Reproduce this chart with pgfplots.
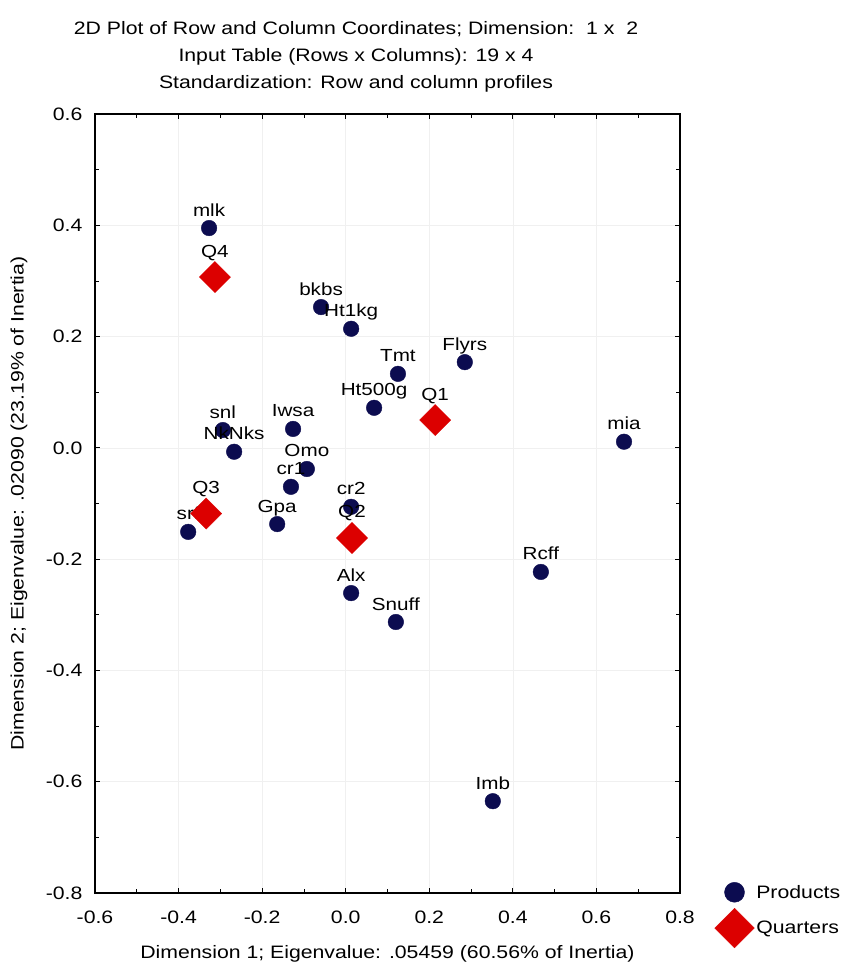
\documentclass[border=0pt]{standalone}
\usepackage{fontspec}
\setmainfont[FakeStretch=1.18]{Liberation Sans}
\usepackage{pgfplots}
\usepackage{pgfplotstable}
\pgfplotsset{compat=1.18}
\definecolor{navy}{RGB}{12,12,80}
\definecolor{qred}{RGB}{220,0,0}

\pgfplotstableread{
x y label
-0.327 0.395 mlk
-0.059 0.253 bkbs
0.013 0.214 Ht1kg
0.125 0.133 Tmt
0.285 0.154 Flyrs
0.068 0.072 Ht500g
0.666 0.011 mia
-0.294 0.032 snl
-0.267 -0.007 NkNks
-0.126 0.034 Iwsa
-0.093 -0.038 Omo
-0.131 -0.070 cr1
-0.164 -0.137 Gpa
-0.377 -0.151 srf
0.013 -0.106 cr2
0.013 -0.261 Alx
0.120 -0.313 Snuff
0.467 -0.223 Rcff
0.352 -0.635 Imb
}\products

\pgfplotstableread{
x y label
0.214 0.050 Q1
0.015 -0.162 Q2
-0.334 -0.118 Q3
-0.313 0.307 Q4
}\quarters

\begin{document}
\begin{tikzpicture}
\useasboundingbox (-95pt,-78pt) rectangle (746pt,893pt);
\begin{axis}[
  at={(0pt,0pt)}, anchor=south west,
  scale only axis, width=585pt, height=779pt,
  xmin=-0.6, xmax=0.8, ymin=-0.8, ymax=0.6,
  xtick distance=0.2, ytick distance=0.2,
  minor x tick num=1, minor y tick num=1,
  tick align=inside, major tick length=5pt, minor tick length=4pt,
  axis line style={line width=1.5pt},
  every tick/.style={black, line width=0.8pt},
  grid=major, major grid style={gray!12, line width=0.6pt},
  /pgf/number format/.cd, fixed, fixed zerofill, precision=1, assume math mode=true,
  /pgfplots/.cd,
  ticklabel style={font=\fontsize{18}{21}\selectfont},
  yticklabel style={xshift=-9pt},
  xticklabel style={yshift=-14pt},
  xlabel={Dimension 1; Eigenvalue: .05459 (60.56\% of Inertia)},
  ylabel={Dimension 2; Eigenvalue: .02090 (23.19\% of Inertia)},
  label style={font=\fontsize{18}{21}\selectfont},
  xlabel style={at={(axis description cs:0.5,-0.0775)}, anchor=center},
  ylabel style={at={(axis description cs:-0.13,0.5)}, anchor=center},
  clip=false,
  legend style={at={(rel axis cs:1.059,0.014)}, anchor=north west, draw=none, fill=none,
    font=\fontsize{18}{21}\selectfont, row sep=6pt, inner sep=0pt,
    nodes={inner sep=2pt}},
  legend cell align=left,
]
\addplot[only marks, mark=*, mark size=7.8pt, navy,
  legend image post style={mark size=10pt},
  nodes near coords, point meta=explicit symbolic,
  every node near coord/.style={anchor=base, yshift=12pt, inner sep=0pt, black, font=\fontsize{17.5}{20}\selectfont}]
  table[x=x, y=y, meta=label]{\products};
\addlegendentry{Products}
\addplot[only marks, mark=square*, mark options={rotate=45}, mark size=11pt, qred,
  legend image post style={mark size=14pt},
  nodes near coords, point meta=explicit symbolic,
  every node near coord/.style={anchor=base, yshift=20pt, inner sep=0pt, black, font=\fontsize{17.5}{20}\selectfont}]
  table[x=x, y=y, meta=label]{\quarters};
\addlegendentry{Quarters}
\end{axis}
\node[align=center, font=\fontsize{18}{27}\selectfont] at (261pt,836pt)
  {2D Plot of Row and Column Coordinates; Dimension:\ \ 1 x\ \ 2\\
   Input Table (Rows x Columns): 19 x 4\\
   Standardization: Row and column profiles};
\end{tikzpicture}
\end{document}
